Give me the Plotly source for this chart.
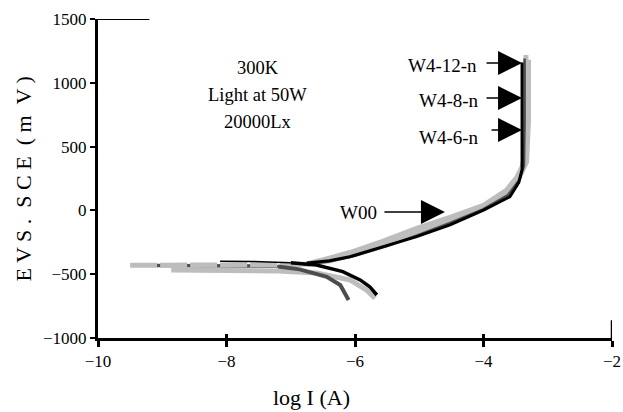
import plotly.graph_objects as go

# ---- data (log I in A, E in mV vs SCE) ----
# W4-12-n (light gray): near-Ecorr part and anodic branch
w412_ex = [-9.5, -8.5, -7.5, -6.9]
w412_ey = [-430, -430, -428, -425]
w412_x = [-6.9, -6.75, -6.4, -6.08, -5.56, -5.04, -4.52, -4.0, -3.64, -3.48, -3.40, -3.35, -3.34, -3.34, -3.34]
w412_y = [-425, -420, -375, -330, -240, -140, -55, 40, 160, 260, 340, 450, 700, 1000, 1218]

# W4-8-n (light gray): cathodic branch and anodic branch
w48_cx = [-8.86, -8.0, -7.2, -6.6, -6.08, -5.82, -5.69]
w48_cy = [-467, -470, -475, -490, -545, -624, -689]
w48_ax = [-6.75, -6.4, -6.0, -5.5, -5.0, -4.5, -4.0, -3.65, -3.45, -3.33, -3.30, -3.30]
w48_ay = [-425, -395, -345, -265, -170, -75, 20, 130, 250, 380, 700, 1180]

# W4-6-n (dark gray)
w46_ex = [-9.1, -8.0, -7.2]
w46_ey = [-432, -432, -436]
w46_cx = [-7.2, -6.86, -6.44, -6.23, -6.10]
w46_cy = [-440, -462, -520, -585, -702]
w46_ax = [-6.8, -6.4, -6.0, -5.5, -5.0, -4.5, -4.0, -3.62, -3.44, -3.37, -3.36, -3.36]
w46_ay = [-425, -400, -355, -280, -190, -95, 10, 120, 240, 350, 700, 1190]

# W00 (black)
w00_ex = [-8.1, -7.6, -7.0]
w00_ey = [-398, -400, -410]
w00_cx = [-7.0, -6.6, -6.19, -5.92, -5.77, -5.66]
w00_cy = [-410, -428, -480, -545, -598, -663]
w00_ax = [-6.75, -6.4, -6.08, -5.56, -5.04, -4.52, -4.0, -3.59, -3.45, -3.40, -3.40, -3.40]
w00_ay = [-412, -395, -363, -284, -206, -114, 3, 107, 220, 320, 700, 1160]

x_ticks = [-10, -8, -6, -4, -2]
y_ticks = [-1000, -500, 0, 500, 1000, 1500]

LG = "#bdbdbd"
DG = "#4d4d4d"
FONT = "Liberation Serif"

fig = go.Figure()

def add(x, y, color, width, dash="solid"):
    fig.add_trace(go.Scatter(x=x, y=y, mode="lines", showlegend=False, hoverinfo="skip",
                             line=dict(color=color, width=width, dash=dash)))

add(w46_ex, w46_ey, DG, 3.5)
add(w412_ex, w412_ey, LG, 5, dash="27px,3px")
add(w412_x, w412_y, LG, 5)
add(w48_cx, w48_cy, LG, 5)
add(w48_ax, w48_ay, LG, 5)
add(w46_cx, w46_cy, DG, 4)
add(w46_ax, w46_ay, DG, 2.5)
add(w00_ex, w00_ey, "black", 1.5)
add(w00_cx, w00_cy, "black", 3.5)
add(w00_ax, w00_ay, "black", 3)

# partial frame pieces
fig.add_shape(type="line", x0=-10, x1=-9.2, y0=1500, y1=1500, line=dict(color="black", width=2))
fig.add_shape(type="line", x0=-2, x1=-2, y0=-1000, y1=-860, line=dict(color="black", width=2.5))

# inner tick marks for x (crossing ticks)
fig.update_layout(xaxis2=dict(overlaying="x", range=[-10, -2], tickvals=x_ticks, ticks="inside",
                              ticklen=4, tickwidth=2.5, tickcolor="black", showticklabels=False,
                              showgrid=False, zeroline=False, side="bottom", anchor="y",
                              automargin=False))
fig.add_trace(go.Scatter(x=[-10], y=[-1000], xaxis="x2", mode="markers", marker=dict(opacity=0),
                         showlegend=False, hoverinfo="skip"))

ann = []
for txt, y in [("300K", 1116), ("Light at 50W", 904), ("20000Lx", 693)]:
    ann.append(dict(x=-7.51, y=y, text=txt, showarrow=False, xanchor="center", yanchor="middle",
                    font=dict(family=FONT, size=18.5, color="black")))
for txt, x, y in [("W4-12-n", -4.645, 1139), ("W4-8-n", -4.54, 865), ("W4-6-n", -4.54, 575), ("W00", -5.94, -20)]:
    ann.append(dict(x=x, y=y, text=txt, showarrow=False, xanchor="center", yanchor="middle",
                    font=dict(family=FONT, size=19, color="black")))
for x, y, ax in [(-3.40, 1155, -37), (-3.40, 881, -37), (-3.40, 630, -32), (-4.60, -13, -62)]:
    ann.append(dict(x=x, y=y, ax=ax, ay=0, text="", showarrow=True, arrowhead=2, arrowsize=3.2,
                    arrowwidth=1.5, arrowcolor="black", standoff=0))
# axis titles
ann.append(dict(x=-6.67, xref="x", y=-0.188, yref="paper", text="log I (A)", showarrow=False,
                xanchor="center", yanchor="middle", font=dict(family=FONT, size=22, color="black")))
ann.append(dict(x=-0.144, xref="paper", y=0.5, yref="paper",
                text="E V S .\u00a0\u00a0S C E\u00a0\u00a0( m\u00a0\u00a0V )",
                showarrow=False, textangle=-90, xanchor="center", yanchor="middle",
                font=dict(family=FONT, size=22, color="black")))

fig.update_layout(
    width=623, height=412, autosize=False,
    margin=dict(l=98, r=11, t=19, b=74, autoexpand=False),
    paper_bgcolor="white", plot_bgcolor="white",
    annotations=ann,
    xaxis=dict(range=[-10, -2], tickvals=x_ticks, ticks="outside", ticklen=6, tickwidth=2.5,
               tickcolor="black", showline=True, linecolor="black", linewidth=3,
               showgrid=False, zeroline=False, automargin=False,
               tickfont=dict(family=FONT, size=17, color="black")),
    yaxis=dict(range=[-1000, 1500], tickvals=y_ticks, ticks="outside", ticklen=5, tickwidth=2,
               tickcolor="black", showline=True, linecolor="black", linewidth=3,
               showgrid=False, zeroline=False, automargin=False,
               tickfont=dict(family=FONT, size=17, color="black")),
)

# remove the default 8px page margin so the figure fills the window exactly
fig.write_html("out.html", config={"displayModeBar": False},
               post_script="document.body.style.margin='0';document.body.style.overflow='hidden';")
